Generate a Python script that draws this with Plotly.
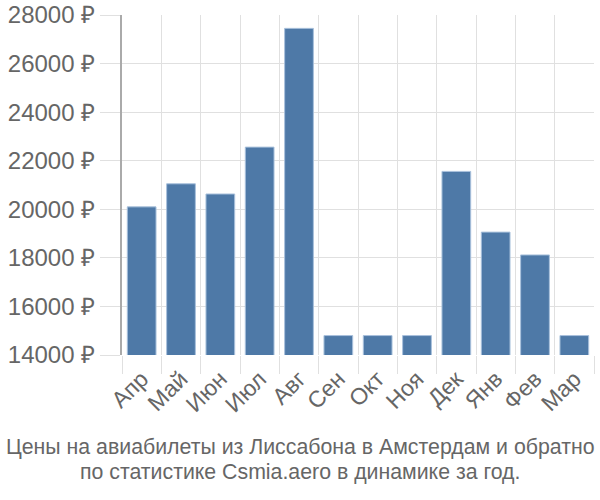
import plotly.graph_objects as go

months = ["Апр", "Май", "Июн", "Июл", "Авг", "Сен", "Окт", "Ноя", "Дек", "Янв", "Фев", "Мар"]
prices = [20100, 21050, 20630, 22560, 27450, 14800, 14800, 14800, 21560, 19060, 18120, 14800]
y_ticks = [14000, 16000, 18000, 20000, 22000, 24000, 26000, 28000]
y_tick_labels = [f"{v} ₽" for v in y_ticks]
title_lines = ["Цены на авиабилеты из Лиссабона в Амстердам и обратно",
               "по статистике Csmia.aero в динамике за год."]

fig = go.Figure(go.Bar(
    x=months, y=prices,
    marker=dict(color="#4e79a7", line=dict(color="#a9c1dc", width=1)),
))

W, H = 600, 500
L, R, T, B = 122, 6, 15, 145

fig.update_layout(
    width=W, height=H,
    margin=dict(l=L, r=R, t=T, b=B, autoexpand=False),
    plot_bgcolor="white", paper_bgcolor="white",
    bargap=0.27,
    showlegend=False,
    font=dict(family="Liberation Sans, Arial, sans-serif", color="#666666"),
    xaxis=dict(
        type="category", tickson="boundaries", automargin=False,
        showgrid=True, gridcolor="#e0e0e0", gridwidth=1,
        ticks="outside", ticklen=18, tickcolor="#e0e0e0",
        ticklabelstandoff=5,
        tickangle=-45, tickfont=dict(size=23, color="#666666"),
        showline=False,
    ),
    yaxis=dict(
        range=[14000, 28000], tickvals=y_ticks, ticktext=y_tick_labels,
        automargin=False,
        showgrid=True, gridcolor="#e0e0e0", gridwidth=1,
        ticks="outside", ticklen=20, tickcolor="#e0e0e0",
        tickfont=dict(size=24, color="#666666"),
        showline=True, linecolor="#aaaaaa", linewidth=2,
        zeroline=False,
    ),
)

for i, line in enumerate(title_lines):
    fig.add_annotation(
        text=line, xref="paper", yref="paper",
        x=(300 - L) / (W - L - R),
        y=-(447 + 25 * i - (H - B)) / (H - T - B),
        xanchor="center", yanchor="middle", showarrow=False,
        font=dict(size=21.3, color="#666666", family="Liberation Sans, Arial, sans-serif"),
    )

fig.write_html(
    "out.html",
    config={"displayModeBar": False},
    post_script="document.body.style.margin='0';document.body.style.overflow='hidden';",
)
